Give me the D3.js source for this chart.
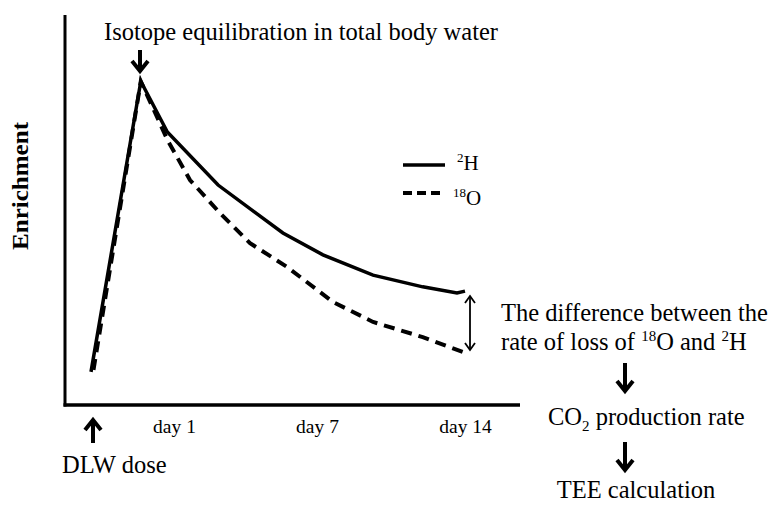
<!DOCTYPE html>
<html><head><meta charset="utf-8">
<script src="https://cdn.jsdelivr.net/npm/d3@7"></script>
<style>body{margin:0;background:#fff}svg{display:block;font-family:"Liberation Serif","Times New Roman",serif}</style>
</head><body>
<svg id="c" width="776" height="509"></svg>
<script>
// ---- data (schematic: time in days, enrichment arbitrary units) ----
const tickDays = [1, 7, 14];
const tickLabels = ["day 1", "day 7", "day 14"];
const h2Days = [0, 0.6, 0.92, 2.85, 5.57, 7.28, 9.65, 12.0, 13.62, 14];
const h2Enrich = [8.5, 83, 70, 56.4, 44.1, 38.5, 33.3, 30.3, 28.7, 29.2];
const o18Days = [0.03, 0.6, 0.92, 1.67, 2.93, 4.19, 5.74, 7.76, 9.65, 12.0, 13.9];
const o18Enrich = [9.0, 83, 68, 57.7, 49.2, 41.5, 35.4, 26.4, 21.3, 17.4, 13.6];

const svg = d3.select("#c");
// schematic (polylinear) time axis
const x = d3.scaleLinear().domain([-0.31, 0, 1, 7, 14, 16.6]).range([65, 91, 174, 317, 465, 520]);
const y = d3.scaleLinear().domain([0, 100]).range([405, 15]);

// axes
svg.append("line").attr("x1", 65).attr("x2", 65).attr("y1", y(100)).attr("y2", y(0) + 1.5)
  .attr("stroke", "#000").attr("stroke-width", 3);
svg.append("line").attr("x1", 63.5).attr("x2", x(16.6)).attr("y1", y(0)).attr("y2", y(0))
  .attr("stroke", "#000").attr("stroke-width", 3.5);

const xAxis = d3.axisBottom(x).tickValues(tickDays).tickSize(0)
  .tickFormat((d, i) => tickLabels[i]);
const gx = svg.append("g").attr("transform", `translate(0,${y(0)})`).call(xAxis);
gx.select(".domain").remove();
gx.selectAll("text").attr("font-family", "Liberation Serif").attr("font-size", 19.5)
  .attr("fill", "#000").attr("dy", "1.3em");

svg.append("text").attr("transform", `translate(28,186) rotate(-90)`)
  .attr("text-anchor", "middle").attr("font-weight", "bold").attr("font-size", 23)
  .attr("textLength", 128).attr("lengthAdjust", "spacingAndGlyphs")
  .text("Enrichment");

// lines
const line = d3.line().x(d => x(d[0])).y(d => y(d[1]));
const o18 = o18Days.map((d, i) => [d, o18Enrich[i]]);
const h2 = h2Days.map((d, i) => [d, h2Enrich[i]]);
svg.append("path").datum(o18).attr("d", line).attr("fill", "none").attr("stroke", "#000")
  .attr("stroke-width", 4).attr("stroke-dasharray", "11,7");
svg.append("path").datum(h2).attr("d", line).attr("fill", "none").attr("stroke", "#000")
  .attr("stroke-width", 3.5).attr("stroke-linejoin", "miter");

// legend
svg.append("line").attr("x1", 403).attr("x2", 445).attr("y1", 165).attr("y2", 165)
  .attr("stroke", "#000").attr("stroke-width", 3.5);
svg.append("line").attr("x1", 403).attr("x2", 445).attr("y1", 193).attr("y2", 193)
  .attr("stroke", "#000").attr("stroke-width", 4).attr("stroke-dasharray", "9,5");
const lt1 = svg.append("text").attr("x", 457).attr("y", 170).attr("font-size", 21);
lt1.append("tspan").attr("font-size", 13).attr("dy", -8).text("2");
lt1.append("tspan").attr("dy", 8).text("H");
const lt2 = svg.append("text").attr("x", 453).attr("y", 205).attr("font-size", 21);
lt2.append("tspan").attr("font-size", 13).attr("dy", -8).text("18");
lt2.append("tspan").attr("dy", 8).text("O");

// arrows
function boldArrow(cx, y1, y2) {
  const dir = y2 > y1 ? 1 : -1;
  svg.append("line").attr("x1", cx).attr("x2", cx).attr("y1", y1).attr("y2", y2 - dir * 1)
    .attr("stroke", "#000").attr("stroke-width", 4);
  svg.append("path").attr("d", `M${cx - 8},${y2 - dir * 10}L${cx},${y2}L${cx + 8},${y2 - dir * 10}`)
    .attr("fill", "none").attr("stroke", "#000").attr("stroke-width", 4);
}
boldArrow(140, 50, 71);
boldArrow(93, 443, 420);
boldArrow(625, 363, 391);
boldArrow(625, 442, 470);

// double arrow between curves at day 14
const dx = 470, dy1 = 296, dy2 = 350;
svg.append("line").attr("x1", dx).attr("x2", dx).attr("y1", dy1).attr("y2", dy2)
  .attr("stroke", "#000").attr("stroke-width", 1.8);
svg.append("path").attr("d", `M${dx - 5},${dy1 + 7}L${dx},${dy1}L${dx + 5},${dy1 + 7}M${dx - 5},${dy2 - 7}L${dx},${dy2}L${dx + 5},${dy2 - 7}`)
  .attr("fill", "none").attr("stroke", "#000").attr("stroke-width", 1.8);

// annotations
svg.append("text").attr("x", 301).attr("y", 40).attr("text-anchor", "middle").attr("font-size", 24.5)
  .text("Isotope equilibration in total body water");
svg.append("text").attr("x", 62).attr("y", 473).attr("font-size", 24.5).text("DLW dose");
svg.append("text").attr("x", 501).attr("y", 321).attr("font-size", 24.5).text("The difference between the");
const r2 = svg.append("text").attr("x", 501).attr("y", 350).attr("font-size", 24.5);
r2.append("tspan").text("rate of loss of ");
r2.append("tspan").attr("font-size", 15).attr("dy", -9).text("18");
r2.append("tspan").attr("dy", 9).text("O and ");
r2.append("tspan").attr("font-size", 15).attr("dy", -9).text("2");
r2.append("tspan").attr("dy", 9).text("H");
const co = svg.append("text").attr("x", 548).attr("y", 425).attr("font-size", 24.5);
co.append("tspan").text("CO");
co.append("tspan").attr("font-size", 15).attr("dy", 6).text("2");
co.append("tspan").attr("dy", -6).text(" production rate");
svg.append("text").attr("x", 636).attr("y", 498).attr("text-anchor", "middle").attr("font-size", 24.5)
  .text("TEE calculation");
</script>
</body></html>
